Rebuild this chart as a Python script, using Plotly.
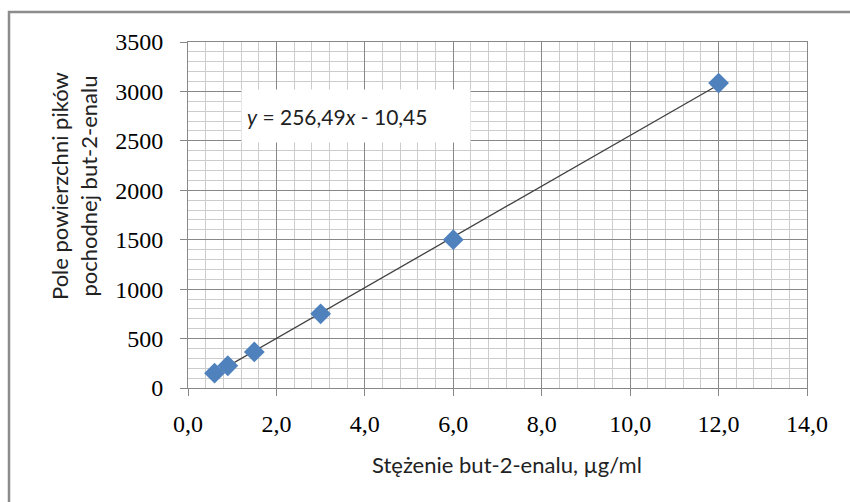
import plotly.graph_objects as go

# Data
conc = [0.6, 0.9, 1.5, 3.0, 6.0, 12.0]          # µg/ml
area = [150, 225, 365, 750, 1500, 3085]         # peak area
slope = 256.49
intercept = -10.45
x_ticks = [0, 2, 4, 6, 8, 10, 12, 14]
x_tick_labels = ["0,0", "2,0", "4,0", "6,0", "8,0", "10,0", "12,0", "14,0"]
y_ticks = [0, 500, 1000, 1500, 2000, 2500, 3000, 3500]
y_tick_labels = ["0", "500", "1000", "1500", "2000", "2500", "3000", "3500"]

trend_x = [min(conc), max(conc)]
trend_y = [slope * v + intercept for v in trend_x]

PL, PR, PT, PB = 188, 807, 42, 388
W, H = 850, 502

def px(xp):
    return (xp - PL) / (PR - PL)

def py(yp):
    return (PB - yp) / (PB - PT)

fig = go.Figure()
fig.add_trace(go.Scatter(
    x=trend_x, y=trend_y, mode="lines",
    line=dict(color="#404040", width=1.3), showlegend=False, hoverinfo="skip"))
fig.add_trace(go.Scatter(
    x=conc, y=area, mode="markers",
    marker=dict(symbol="diamond", size=16, color="#4F81BD",
                line=dict(width=0)), showlegend=False))

MAJ = "#888888"
MIN = "#cccccc"
fig.update_xaxes(
    range=[0, 14], tickmode="array", tickvals=x_ticks, ticktext=x_tick_labels,
    showgrid=True, gridcolor=MAJ, gridwidth=1,
    minor=dict(dtick=0.4, showgrid=True, gridcolor=MIN, gridwidth=1, ticks=""),
    showline=True, linecolor=MAJ, linewidth=1, mirror=True,
    ticks="outside", ticklen=7, tickcolor=MAJ, ticklabelstandoff=7,
    tickfont=dict(family="Liberation Serif", size=24, color="#000000"),
    zeroline=False, fixedrange=True)
fig.update_yaxes(
    range=[0, 3500], tickmode="array", tickvals=y_ticks, ticktext=y_tick_labels,
    showgrid=True, gridcolor=MAJ, gridwidth=1,
    minor=dict(dtick=100, showgrid=True, gridcolor=MIN, gridwidth=1, ticks=""),
    showline=True, linecolor=MAJ, linewidth=1, mirror=True,
    ticks="outside", ticklen=7, tickcolor=MAJ, ticklabelstandoff=12,
    tickfont=dict(family="Liberation Serif", size=24, color="#000000"),
    zeroline=False, fixedrange=True)

fig.add_annotation(
    xref="paper", yref="paper", x=px(356), y=py(116), xanchor="center", yanchor="middle",
    text="<i>y</i> = 256,49<i>x</i> - 10,45", showarrow=False,
    font=dict(family="Lato", size=21, color="#222222"),
    bgcolor="#ffffff", width=218, height=42, align="left", borderpad=5)

fig.add_annotation(
    xref="paper", yref="paper", x=px(507), y=py(464), xanchor="center", yanchor="middle",
    text="Stężenie but-2-enalu, µg/ml", showarrow=False,
    font=dict(family="Lato", size=22, color="#222222"))

fig.add_annotation(
    xref="paper", yref="paper", x=px(74), y=py(186), xanchor="center", yanchor="middle",
    textangle=-90,
    text="Pole powierzchni pików<br>pochodnej but-2-enalu", showarrow=False,
    font=dict(family="Lato", size=22, color="#222222"))

fig.add_shape(type="rect", xref="paper", yref="paper",
              x0=px(9), y0=-2, x1=3, y1=py(12),
              line=dict(color="#8c8c8c", width=2.5), fillcolor="rgba(0,0,0,0)")

fig.update_layout(
    width=W, height=H,
    margin=dict(l=PL, r=W - PR, t=PT, b=H - PB),
    paper_bgcolor="#ffffff", plot_bgcolor="#ffffff",
    showlegend=False)

fig.write_html("out.html", config={"displayModeBar": False},
               post_script="document.body.style.margin='0';")
